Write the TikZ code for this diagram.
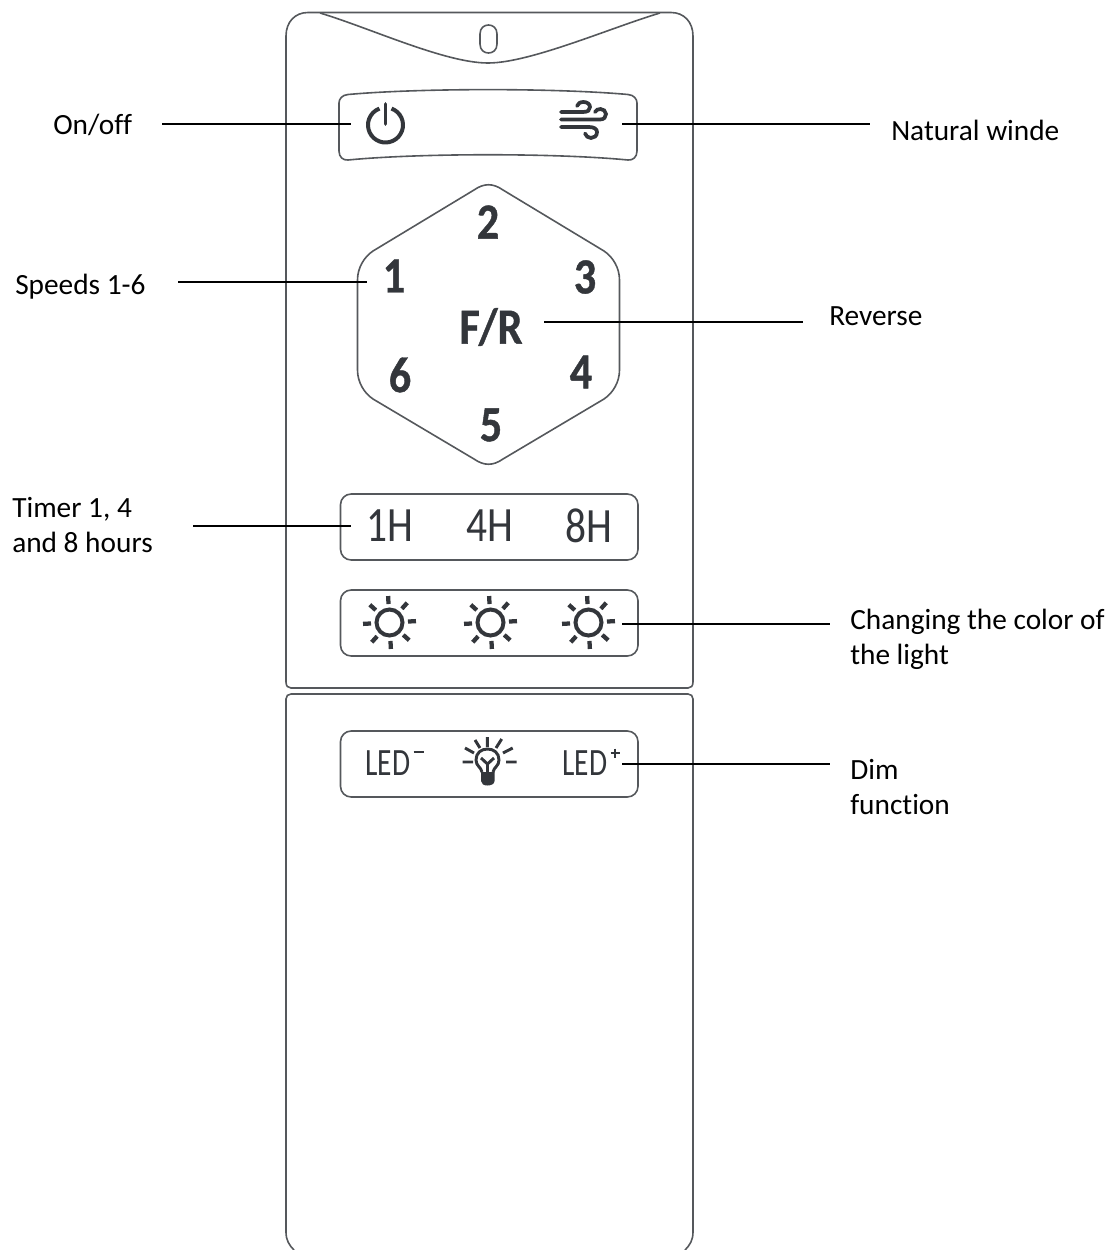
\documentclass[tikz,border=0pt]{standalone}
\usepackage{fontspec}
\setmainfont[Ligatures=NoCommon]{Carlito}
\newfontfamily\btnfont[FakeStretch=0.76]{Carlito}
\newfontfamily\hourfont[FakeStretch=0.84]{Carlito}
\newfontfamily\numfont[FakeStretch=0.87,BoldFeatures={FakeStretch=0.87,FakeBold=0.8}]{Carlito}
\definecolor{ink}{HTML}{33363B}
\definecolor{edge}{HTML}{55585C}
\tikzset{
  outline/.style={draw=edge,line width=1.2pt,fill=none},
  keybox/.style={draw=edge,line width=1.2pt,fill=none,rounded corners=8pt},
  leader/.style={draw=black,line width=1.1pt},
  lab/.style={anchor=base west,inner sep=0pt,font=\fontsize{22}{26}\selectfont,text=black},
  bigkey/.style={inner sep=0pt,text=ink,font=\numfont\bfseries\fontsize{38}{40}\selectfont},
  keytext/.style={inner sep=0pt,text=ink,font=\hourfont\fontsize{37}{40}\selectfont},
  ledtext/.style={inner sep=0pt,text=ink,font=\btnfont\fontsize{29}{32}\selectfont},
  icon/.style={draw=ink,line width=2.5pt,line cap=butt},
  sunicon/.pic={
    \draw[icon,line width=3pt] (0,0) circle (13);
    \foreach \a in {0,45,...,315}{\draw[icon,line width=3.2pt] (\a-3:18.5) -- (\a-3:26.5);}
  }
}
\begin{document}
\begin{tikzpicture}[x=0.75pt,y=-0.75pt]
\useasboundingbox (0,0) rectangle (1111,1250);
% body
\draw[outline] (286,36) .. controls (286,22) and (295,12.5) .. (308,12.5) -- (671,12.5) .. controls (684,12.5) and (693,22) .. (693,36) -- (693,682) .. controls (693,686) and (691,688) .. (688,688) -- (291,688) .. controls (288,688) and (286,686) .. (286,682) -- cycle;
\draw[outline] (294,1250) .. controls (289,1245) and (286,1240) .. (286,1232) -- (286,699) .. controls (286,696) and (288,694) .. (291,694) -- (688,694) .. controls (691,694) and (693,696) .. (693,699) -- (693,1232) .. controls (693,1240) and (690,1245) .. (685,1250);
% top flap
\draw[outline] (320,13) .. controls (370,28) and (445,63) .. (488,63) .. controls (530,63) and (610,28) .. (660,13);
\draw[outline] (480,34) .. controls (480,28) and (484,25) .. (488.5,25) .. controls (493,25) and (497,28) .. (497,34) -- (497,44) .. controls (497,50) and (493,53) .. (488.5,53) .. controls (484,53) and (480,50) .. (480,44) -- cycle;
% power / natural wind key
\draw[outline] (348,94.5) .. controls (420,88) and (556,88) .. (628,94.5) .. controls (634,95) and (637,99) .. (637,103) -- (637,151) .. controls (637,157) and (633,160.5) .. (628,160) .. controls (556,153) and (420,153) .. (348,160) .. controls (343,160.5) and (339,157) .. (339,151) -- (339,103) .. controls (339,99) and (342,95) .. (348,94.5) -- cycle;
\draw[icon,line width=3pt] (385.5,125) ++(-70:17.5) arc[start angle=-70,end angle=250,radius=17.5];
\draw[icon,line width=2.8pt,line cap=round] (385.5,104) -- (385.5,124);
\draw[icon,line width=2.8pt,line cap=round] (561,112) -- (583,112) .. controls (588,112) and (590,110) .. (590,107) .. controls (590,104) and (587,102) .. (583.5,102) .. controls (580,102) and (578,103.5) .. (577,106);
\draw[icon,line width=2.8pt,line cap=round] (561,119.5) -- (600,119.5) .. controls (604,119.5) and (606,117) .. (606,114) .. controls (606,111) and (603,109) .. (600.5,109) .. controls (598,109) and (596,110) .. (595,112);
\draw[icon,line width=2.8pt,line cap=round] (561,127) -- (589,127) .. controls (594,127) and (597,129) .. (597,132) .. controls (597,136) and (594,138) .. (591,138) .. controls (588,138) and (586,136) .. (585,133.5);
% hexagon
\draw[outline] (503,190) -- (604,251) .. controls (613,257) and (619.5,268) .. (619.5,280) -- (619.5,370) .. controls (619.5,382) and (613,393) .. (604,399) -- (503,459) .. controls (493,466) and (484,466) .. (474,459) -- (373,399) .. controls (364,393) and (357.5,382) .. (357.5,370) -- (357.5,280) .. controls (357.5,268) and (364,257) .. (373,251) -- (474,190) .. controls (484,183) and (493,183) .. (503,190) -- cycle;
\node[bigkey] (k2) at (488,222) {2};
\node[bigkey] (k3) at (585,277) {3};
\node[bigkey] (k1) at (394,276) {1};
\node[bigkey] (kfr) at (491,327) {F/R};
\node[bigkey] (k6) at (400,375) {6};
\node[bigkey] (k4) at (581,372) {4};
\node[bigkey] (k5) at (491,425) {5};
% timer key
\draw[keybox] (340.5,494) rectangle (638,560);
\node[keytext] (t1) at (389.5,526) {1H};
\node[keytext] (t4) at (490,526) {4H};
\node[keytext] (t8) at (589,526) {8H};
% light colour key
\draw[keybox] (340.5,590) rectangle (638,656);
\pic at (389.5,622.5) {sunicon};
\pic at (490.5,622.5) {sunicon};
\pic at (588.5,622.5) {sunicon};
% dim key
\draw[keybox] (340.5,731) rectangle (638,797);
\node[ledtext] (lm) at (388,763) {LED};
\node[ledtext] (lp) at (585,763) {LED};
\draw[icon,line width=1.8pt] (413.5,752) -- (423.5,752);
\draw[icon,line width=1.8pt] (610.5,753) -- (619.5,753) (615,748.5) -- (615,757.5);
% bulb
\draw[icon,line width=2.2pt] (482,772) .. controls (481,767) and (476,766) .. (476,760) .. controls (476,753) and (481,749) .. (487.5,749) .. controls (494,749) and (499,753) .. (499,760) .. controls (499,766) and (494,767) .. (493,772);
\draw[icon,line width=2.2pt] (487.5,772) -- (487.5,764) -- (481,758) (487.5,764) -- (494,758);
\fill[ink] (481,772) -- (494.5,772) -- (494.5,781) .. controls (494.5,784) and (491,785.5) .. (487.5,785.5) .. controls (484,785.5) and (481,784) .. (481,781) -- cycle;
\draw[icon,line width=2.2pt] (487.3,737) -- (487.3,747) (475,740) -- (480,748) (501.7,739) -- (496,748) (465,748) -- (474,753) (512.7,748) -- (503,753) (462.7,762) -- (473,762) (506,762) -- (516.7,762);
% labels
\node[lab] (onoff) at (53,134) {On/off};
\node[lab] (natural) at (891,140) {Natural winde};
\node[lab] (speeds) at (15,294) {Speeds 1-6};
\node[lab] (reverse) at (829,325) {Reverse};
\node[lab] (timera) at (12,517) {Timer 1, 4};
\node[lab] (timerb) at (12,552) {and 8 hours};
\node[lab] (changea) at (850,629) {Changing the color of};
\node[lab] (changeb) at (850,664) {the light};
\node[lab] (dima) at (850,779) {Dim};
\node[lab] (dimb) at (850,814) {function};
% leaders
\coordinate (a1) at (162,124); \coordinate (a2) at (351,124);
\coordinate (b1) at (622,124); \coordinate (b2) at (870,124);
\coordinate (c1) at (178,282); \coordinate (c2) at (367,282);
\coordinate (d1) at (544,322); \coordinate (d2) at (803,322);
\coordinate (e1) at (193,526); \coordinate (e2) at (351,526);
\coordinate (f1) at (622,624); \coordinate (f2) at (830,624);
\coordinate (g1) at (622,764); \coordinate (g2) at (830,764);
\draw[leader] (a1) -- (a2);
\draw[leader] (b1) -- (b2);
\draw[leader] (c1) -- (c2);
\draw[leader] (d1) -- (d2);
\draw[leader] (e1) -- (e2);
\draw[leader] (f1) -- (f2);
\draw[leader] (g1) -- (g2);
\end{tikzpicture}
\end{document}
